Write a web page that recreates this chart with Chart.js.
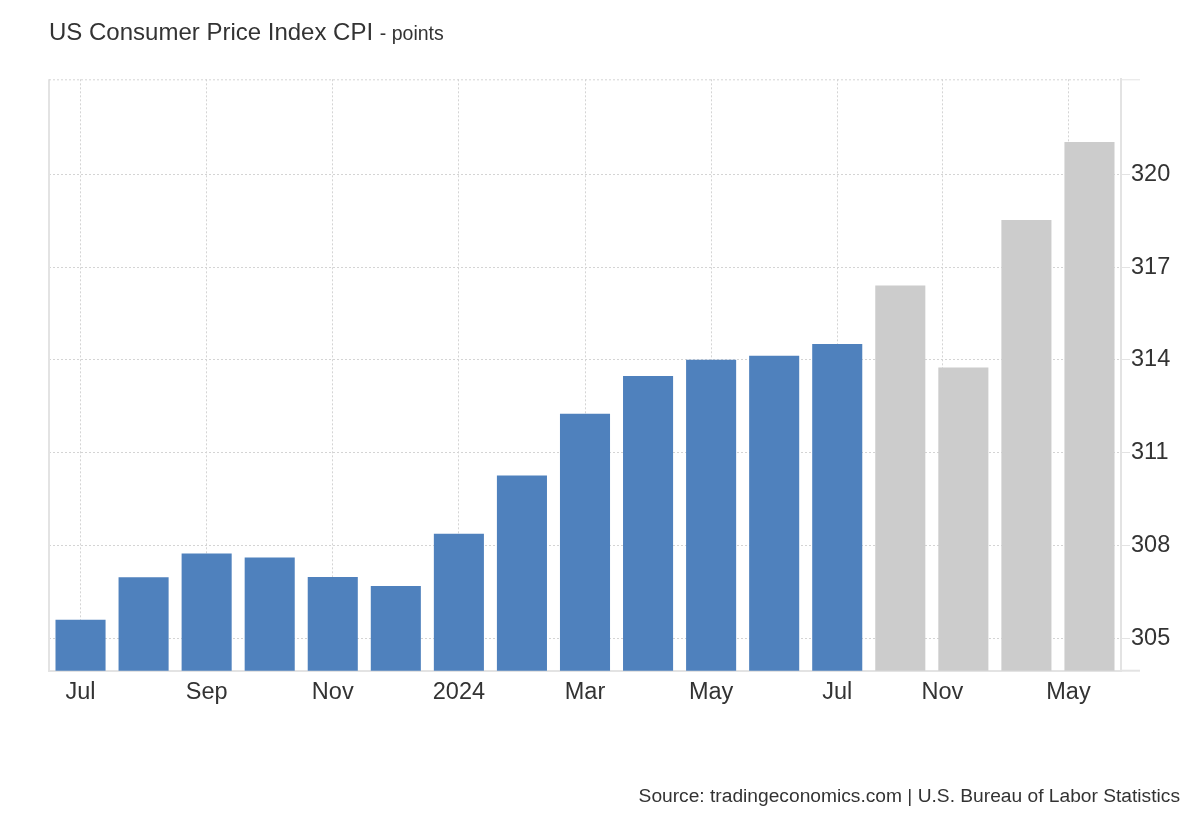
<!DOCTYPE html>
<html>
<head>
<meta charset="utf-8">
<script src="https://cdn.jsdelivr.net/npm/chart.js@4.4.1/dist/chart.umd.min.js"></script>
<style>
  html, body { margin: 0; padding: 0; background: #ffffff; }
  #wrap { position: relative; width: 1200px; height: 820px; overflow: hidden; font-family: "Liberation Sans", Arial, Helvetica, sans-serif; }
  #chart { position: absolute; left: 0; top: 0; }
  #title { position: absolute; left: 49px; top: 18px; color: #333333; font-size: 24px; line-height: 28px; white-space: nowrap; }
  #title .unit { font-size: 19.5px; }
  #source { position: absolute; right: 20px; top: 785px; color: #333333; font-size: 19.2px; line-height: 22px; white-space: nowrap; }
</style>
</head>
<body>
<div id="wrap">
  <canvas id="chart" width="1200" height="820"></canvas>
  <div id="title">US Consumer Price Index CPI <span class="unit">- points</span></div>
  <div id="source">Source: tradingeconomics.com | U.S. Bureau of Labor Statistics</div>
</div>
<script>
// Periods shown (monthly actuals, then quarterly forecasts)
const categories = [
  'Jul 2023', 'Aug 2023', 'Sep 2023', 'Oct 2023', 'Nov 2023', 'Dec 2023',
  'Jan 2024', 'Feb 2024', 'Mar 2024', 'Apr 2024', 'May 2024', 'Jun 2024', 'Jul 2024',
  'Q3 2024', 'Q4 2024', 'Q1 2025', 'Q2 2025'
];
// CPI values (points)
const cpiValues = [
  305.6, 306.97, 307.74, 307.61, 306.98, 306.69,
  308.38, 310.26, 312.26, 313.48, 314.0, 314.13, 314.51,
  316.4, 313.75, 318.52, 321.04
];
// Which bars are forecasts
const isForecast = [
  false, false, false, false, false, false,
  false, false, false, false, false, false, false,
  true, true, true, true
];
// X-axis tick labels and their positions (in bar-index units)
const xTickLabels = ['Jul', 'Sep', 'Nov', '2024', 'Mar', 'May', 'Jul', 'Nov', 'May'];
const xTickPositions = [0, 2, 4, 6, 8, 10, 12, 13 + 2/3, 15 + 2/3];
// Y-axis tick values
const yTickValues = [305, 308, 311, 314, 317, 320];

const ACTUAL_COLOR = '#4f81bd';
const FORECAST_COLOR = '#cccccc';
const GRID_COLOR = '#d4d4d4';
const AXIS_COLOR = '#e3e3e3';
const FONT = '"Liberation Sans", Arial, Helvetica, sans-serif';

const framePlugin = {
  id: 'frame',
  afterDraw(chart) {
    const { ctx, chartArea } = chart;
    ctx.save();
    ctx.strokeStyle = AXIS_COLOR;
    ctx.lineWidth = 2;
    ctx.beginPath();
    ctx.moveTo(chartArea.left, chartArea.top);
    ctx.lineTo(chartArea.left, chartArea.bottom + 1);
    ctx.stroke();
    ctx.beginPath();
    ctx.moveTo(chartArea.right, chartArea.bottom);
    ctx.lineTo(chartArea.right + 19, chartArea.bottom);
    ctx.stroke();
    ctx.lineWidth = 1;
    ctx.beginPath();
    ctx.moveTo(chartArea.right, chartArea.top + 0.5);
    ctx.lineTo(chartArea.right + 19, chartArea.top + 0.5);
    ctx.stroke();
    ctx.setLineDash([2, 2]);
    ctx.strokeStyle = GRID_COLOR;
    ctx.beginPath();
    ctx.moveTo(chartArea.left, chartArea.top + 0.5);
    ctx.lineTo(chartArea.right, chartArea.top + 0.5);
    ctx.stroke();
    ctx.restore();
  }
};

new Chart(document.getElementById('chart'), {
  type: 'bar',
  data: {
    labels: categories,
    datasets: [{
      label: 'CPI',
      data: cpiValues.map((v, i) => ({ x: i, y: v })),
      backgroundColor: isForecast.map(f => f ? FORECAST_COLOR : ACTUAL_COLOR),
      borderWidth: 0,
      barPercentage: 0.794,
      categoryPercentage: 1.0
    }]
  },
  options: {
    responsive: false,
    animation: false,
    devicePixelRatio: 1,
    layout: { padding: { left: 49, top: 79.3, right: 0, bottom: 0 } },
    plugins: {
      legend: { display: false },
      tooltip: { enabled: false },
      title: { display: false }
    },
    scales: {
      x: {
        type: 'linear',
        position: 'bottom',
        offset: false,
        min: -0.5,
        max: categories.length - 0.5,
        afterBuildTicks(scale) {
          scale.ticks = xTickPositions.map(v => ({ value: v }));
        },
        afterFit(scale) { scale.height = 149.3; },
        ticks: {
          autoSkip: false,
          maxRotation: 0,
          padding: 8,
          color: '#333333',
          font: { family: FONT, size: 23.5 },
          callback: (value, index) => xTickLabels[index]
        },
        grid: { offset: false, color: GRID_COLOR, lineWidth: 1, drawTicks: false },
        border: { display: true, color: AXIS_COLOR, width: 2, dash: [2, 2] }
      },
      y: {
        type: 'linear',
        position: 'right',
        min: 303.95,
        max: 323.07,
        afterBuildTicks(scale) {
          scale.ticks = yTickValues.map(v => ({ value: v }));
        },
        afterFit(scale) { scale.width = 79; },
        ticks: {
          padding: 1,
          color: '#333333',
          font: { family: FONT, size: 23.5 },
          callback: v => String(v)
        },
        grid: { color: GRID_COLOR, lineWidth: 1, tickLength: 9, tickColor: AXIS_COLOR, tickBorderDash: [] },
        border: { display: true, color: AXIS_COLOR, width: 2, dash: [2, 2] }
      }
    }
  },
  plugins: [framePlugin]
});
</script>
</body>
</html>
